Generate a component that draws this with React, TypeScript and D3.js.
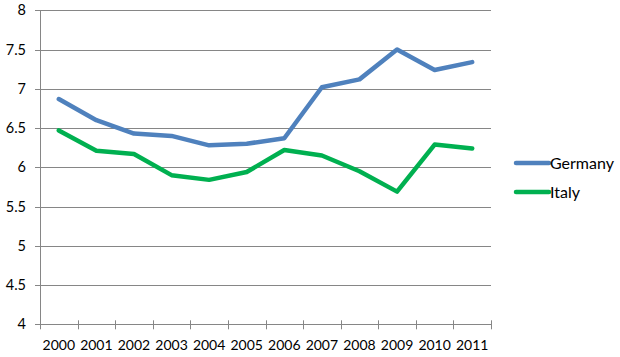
import React from "react";
import * as d3 from "d3";

const years = ["2000","2001","2002","2003","2004","2005","2006","2007","2008","2009","2010","2011"];
const germany = [6.87, 6.6, 6.43, 6.4, 6.28, 6.3, 6.37, 7.02, 7.12, 7.5, 7.24, 7.34];
const italy = [6.47, 6.21, 6.17, 5.9, 5.84, 5.94, 6.22, 6.15, 5.95, 5.69, 6.29, 6.24];
const yTicks = [4, 4.5, 5, 5.5, 6, 6.5, 7, 7.5, 8];
const seriesNames = ["Germany", "Italy"];
const seriesColors = ["#4F81BD", "#00B050"];

export default function App() {
  const W = 620, H = 357;
  const left = 40, right = 491, top = 10.3, bottom = 324.3;
  const x = d3.scaleBand<string>().domain(years).range([left, right]);
  const y = d3.scaleLinear().domain([4, 8]).range([bottom, top]);
  const line = d3.line<number>()
    .x((_, i) => (x(years[i]) as number) + x.bandwidth() / 2)
    .y((d) => y(d));
  const data = [germany, italy];
  const font = "Lato, 'Open Sans', sans-serif";
  const grid = "#868686";
  return (
    <svg width={W} height={H} style={{ position: "absolute", left: 0, top: 0, background: "#fff" }}>
      {yTicks.map((t) => (
        <g key={t}>
          <line x1={left - 5} x2={right} y1={Math.round(y(t)) + 0.5} y2={Math.round(y(t)) + 0.5} stroke={grid} strokeWidth={1} />
          <text x={26} y={y(t)} dy="0.35em" textAnchor="end" fontFamily={font} fontSize={14.5} fill="#000">{t}</text>
        </g>
      ))}
      <line x1={left + 0.5} x2={left + 0.5} y1={top} y2={bottom} stroke={grid} strokeWidth={1} />
      {years.map((yr, i) => (
        <line key={"t" + i} x1={Math.round(x(yr) as number) + 0.5} x2={Math.round(x(yr) as number) + 0.5} y1={bottom - 4} y2={bottom + 5} stroke={grid} strokeWidth={1} />
      ))}
      <line x1={right + 0.5} x2={right + 0.5} y1={bottom - 4} y2={bottom + 5} stroke={grid} strokeWidth={1} />
      {years.map((yr) => (
        <text key={yr} x={(x(yr) as number) + x.bandwidth() / 2} y={350} textAnchor="middle" fontFamily={font} fontSize={14} fill="#000">{yr}</text>
      ))}
      {data.map((d, i) => (
        <path key={i} d={line(d) as string} fill="none" stroke={seriesColors[i]} strokeWidth={4.5} strokeLinejoin="round" strokeLinecap="round" />
      ))}
      {seriesNames.map((n, i) => {
        const ly = 163 + i * 29;
        return (
          <g key={n}>
            <line x1={516} x2={549} y1={ly} y2={ly} stroke={seriesColors[i]} strokeWidth={4.5} strokeLinecap="round" />
            <text x={550} y={ly} dy="0.35em" fontFamily={font} fontSize={16} fill="#000">{n}</text>
          </g>
        );
      })}
    </svg>
  );
}
